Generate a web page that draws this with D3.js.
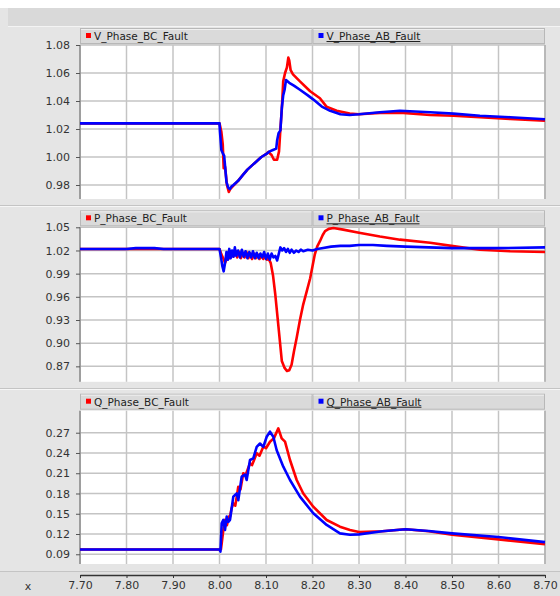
<!DOCTYPE html>
<html><head><meta charset="utf-8">
<script src="https://cdn.jsdelivr.net/npm/d3@7"></script>
<style>
html,body{margin:0;padding:0;background:#ffffff;}
svg{display:block;font-family:"DejaVu Sans",sans-serif;}
</style></head>
<body>
<svg id="chart" width="560" height="596"></svg>
<script>
// ---- data ----
const xTicks = [7.70, 7.80, 7.90, 8.00, 8.10, 8.20, 8.30, 8.40, 8.50, 8.60, 8.70];
const vTicks = [0.98, 1.00, 1.02, 1.04, 1.06, 1.08];
const pTicks = [0.87, 0.90, 0.93, 0.96, 0.99, 1.02, 1.05];
const qTicks = [0.09, 0.12, 0.15, 0.18, 0.21, 0.24, 0.27];

const vNames = ["V_Phase_BC_Fault", "V_Phase_AB_Fault"];
const pNames = ["P_Phase_BC_Fault", "P_Phase_AB_Fault"];
const qNames = ["Q_Phase_BC_Fault", "Q_Phase_AB_Fault"];

const vBC = [[7.70,1.024],[8.000,1.024],[8.004,1.018],[8.007,1.009],[8.009,0.992],[8.012,0.993],[8.016,0.980],[8.020,0.975],[8.023,0.977],[8.030,0.9795],[8.040,0.983],[8.050,0.987],[8.060,0.991],[8.070,0.994],[8.080,0.997],[8.090,1.000],[8.100,1.002],[8.105,1.0036],[8.112,1.0014],[8.117,0.998],[8.124,0.998],[8.128,1.004],[8.131,1.020],[8.134,1.034],[8.137,1.054],[8.141,1.060],[8.145,1.064],[8.148,1.071],[8.150,1.069],[8.153,1.062],[8.158,1.059],[8.173,1.054],[8.195,1.047],[8.216,1.042],[8.230,1.036],[8.252,1.033],[8.280,1.031],[8.300,1.0305],[8.345,1.0315],[8.388,1.0317],[8.453,1.030],[8.503,1.0295],[8.560,1.0284],[8.625,1.0271],[8.700,1.026]];
const vAB = [[7.70,1.024],[8.000,1.024],[8.001,1.018],[8.004,1.005],[8.008,1.002],[8.010,1.001],[8.015,0.982],[8.019,0.978],[8.022,0.977],[8.026,0.979],[8.030,0.980],[8.040,0.983],[8.050,0.987],[8.060,0.991],[8.070,0.994],[8.080,0.997],[8.090,1.000],[8.100,1.002],[8.108,1.004],[8.115,1.005],[8.122,1.006],[8.124,1.012],[8.127,1.017],[8.131,1.019],[8.134,1.035],[8.137,1.044],[8.140,1.048],[8.143,1.055],[8.150,1.053],[8.160,1.051],[8.173,1.048],[8.190,1.044],[8.202,1.041],[8.220,1.036],[8.238,1.033],[8.260,1.0305],[8.280,1.030],[8.300,1.0305],[8.345,1.032],[8.388,1.033],[8.453,1.032],[8.503,1.031],[8.560,1.0295],[8.625,1.0284],[8.700,1.027]];

const pBC = [[7.70,1.022],[8.000,1.022],[8.004,1.015],[8.008,1.010],[8.012,1.004],[8.015,1.008],[8.018,1.016],[8.022,1.010],[8.026,1.019],[8.030,1.012],[8.034,1.020],[8.038,1.011],[8.042,1.018],[8.046,1.010],[8.050,1.017],[8.054,1.011],[8.058,1.018],[8.062,1.010],[8.066,1.016],[8.070,1.009],[8.074,1.016],[8.078,1.010],[8.082,1.015],[8.086,1.009],[8.090,1.014],[8.094,1.009],[8.098,1.013],[8.102,1.008],[8.105,1.010],[8.110,1.004],[8.115,0.988],[8.120,0.963],[8.127,0.920],[8.134,0.877],[8.140,0.868],[8.145,0.864],[8.150,0.865],[8.155,0.872],[8.160,0.889],[8.166,0.907],[8.173,0.930],[8.180,0.950],[8.188,0.968],[8.195,0.984],[8.205,1.015],[8.210,1.025],[8.216,1.032],[8.222,1.040],[8.227,1.045],[8.235,1.048],[8.245,1.049],[8.266,1.047],[8.300,1.043],[8.345,1.038],[8.388,1.034],[8.453,1.030],[8.510,1.025],[8.560,1.021],[8.625,1.019],[8.700,1.018]];
const pAB = [[7.70,1.022],[7.80,1.022],[7.82,1.023],[7.86,1.023],[7.88,1.022],[8.000,1.022],[8.003,1.012],[8.006,1.000],[8.009,0.993],[8.012,1.004],[8.015,1.018],[8.018,1.008],[8.021,1.022],[8.024,1.010],[8.027,1.020],[8.030,1.012],[8.033,1.024],[8.036,1.013],[8.040,1.020],[8.044,1.011],[8.048,1.021],[8.052,1.012],[8.056,1.019],[8.060,1.010],[8.064,1.018],[8.068,1.011],[8.072,1.019],[8.076,1.010],[8.080,1.017],[8.084,1.010],[8.088,1.016],[8.092,1.011],[8.096,1.018],[8.100,1.009],[8.104,1.016],[8.108,1.008],[8.112,1.016],[8.116,1.011],[8.120,1.013],[8.124,1.007],[8.128,1.017],[8.131,1.024],[8.135,1.020],[8.139,1.023],[8.143,1.018],[8.147,1.022],[8.151,1.017],[8.155,1.021],[8.160,1.017],[8.165,1.020],[8.170,1.018],[8.175,1.021],[8.180,1.019],[8.190,1.021],[8.200,1.020],[8.210,1.022],[8.220,1.023],[8.240,1.025],[8.260,1.026],[8.280,1.026],[8.300,1.027],[8.330,1.027],[8.360,1.026],[8.400,1.025],[8.450,1.024],[8.500,1.023],[8.600,1.023],[8.700,1.024]];

const qBC = [[7.70,0.097],[8.000,0.097],[8.003,0.097],[8.0047,0.106],[8.0083,0.126],[8.0118,0.141],[8.016,0.133],[8.020,0.146],[8.0226,0.1457],[8.026,0.158],[8.0297,0.1655],[8.034,0.162],[8.0404,0.190],[8.045,0.186],[8.0512,0.210],[8.056,0.207],[8.0656,0.2247],[8.070,0.222],[8.080,0.2395],[8.086,0.236],[8.0942,0.2493],[8.100,0.247],[8.1086,0.2567],[8.1172,0.262],[8.1265,0.2765],[8.1337,0.2617],[8.1409,0.2567],[8.1516,0.2296],[8.166,0.200],[8.1802,0.180],[8.2017,0.1605],[8.2305,0.1408],[8.259,0.1309],[8.2806,0.126],[8.300,0.123],[8.350,0.124],[8.400,0.127],[8.450,0.124],[8.500,0.119],[8.600,0.112],[8.700,0.105]];
const qAB = [[7.70,0.097],[8.000,0.097],[8.002,0.094],[8.0047,0.136],[8.0083,0.141],[8.0118,0.126],[8.0155,0.1457],[8.019,0.138],[8.0226,0.141],[8.0297,0.1753],[8.037,0.180],[8.0404,0.170],[8.0477,0.205],[8.0548,0.208],[8.0584,0.200],[8.0656,0.2296],[8.0727,0.232],[8.080,0.249],[8.0871,0.254],[8.0942,0.249],[8.1015,0.264],[8.1086,0.2715],[8.1157,0.264],[8.123,0.244],[8.1372,0.2197],[8.1516,0.200],[8.173,0.1753],[8.2017,0.1507],[8.2305,0.1334],[8.259,0.121],[8.2806,0.119],[8.300,0.1195],[8.350,0.124],[8.400,0.127],[8.450,0.1245],[8.500,0.121],[8.600,0.1155],[8.700,0.108]];

// ---- layout ----
const svg = d3.select("#chart");
const W = 560, H = 596;
const left = 80, right = 545;
const x = d3.scaleLinear().domain([7.70, 8.70]).range([left, right]);
const RED = "#ff0000", BLUE = "#0000ff";

svg.append("rect").attr("width", W).attr("height", H).attr("fill", "#e5e5e5");
svg.append("rect").attr("x",0).attr("y",0).attr("width",W).attr("height",8).attr("fill","#ffffff");
svg.append("rect").attr("x",8).attr("y",8).attr("width",W-8).attr("height",18).attr("fill","#d9d9d9");
svg.append("line").attr("x1",8).attr("x2",W).attr("y1",26.5).attr("y2",26.5).attr("stroke","#f4f4f4");

const panels = [
  {names: vNames, series: [vBC, vAB], ticks: vTicks, domain: [0.97, 1.08], top: 45, bottom: 199, pTop: 27, pBottom: 205},
  {names: pNames, series: [pBC, pAB], ticks: pTicks, domain: [0.85, 1.05], top: 227.3, bottom: 381.8, pTop: 206, pBottom: 388},
  {names: qNames, series: [qBC, qAB], ticks: qTicks, domain: [0.0756, 0.3026], top: 410.7, bottom: 564, pTop: 389, pBottom: 571}
];

const line = (y) => d3.line().x(d => x(d[0])).y(d => y(d[1]));

panels.forEach((p, i) => {
  const g = svg.append("g");
  // separators
  g.append("line").attr("x1",0).attr("x2",W).attr("y1",p.pBottom+0.5).attr("y2",p.pBottom+0.5).attr("stroke","#c4c4c4");
  g.append("line").attr("x1",0).attr("x2",W).attr("y1",p.pBottom+1.5).attr("y2",p.pBottom+1.5).attr("stroke","#f6f6f6");

  const y = d3.scaleLinear().domain(p.domain).range([p.bottom, p.top]);
  // legend bar
  const lt = p.top - 17, lh = 16;
  const mid = x(8.20);
  [[left, mid], [mid, right]].forEach((seg, k) => {
    g.append("rect").attr("x", seg[0]+0.5).attr("y", lt+0.5).attr("width", seg[1]-seg[0]-1).attr("height", lh-1)
      .attr("fill", "#dadada").attr("stroke", "#b8b8b8");
    g.append("line").attr("x1", seg[0]+1).attr("x2", seg[1]-1).attr("y1", lt+1.5).attr("y2", lt+1.5).attr("stroke","#f0f0f0");
    g.append("rect").attr("x", seg[0]+6).attr("y", lt+5).attr("width", 5).attr("height", 5)
      .attr("fill", k === 0 ? RED : BLUE);
    g.append("text").attr("x", seg[0]+14).attr("y", lt+12).attr("font-size", 10.5).attr("fill", "#222")
      .attr("text-decoration", k === 1 ? "underline" : null)
      .text(p.names[k]);
  });

  // plot background
  g.append("rect").attr("x", left).attr("y", p.top).attr("width", right-left).attr("height", p.bottom-p.top).attr("fill", "#ffffff");
  // grid
  g.selectAll(".vg").data(xTicks).enter().append("line")
    .attr("x1", d => x(d)).attr("x2", d => x(d)).attr("y1", p.top).attr("y2", p.bottom)
    .attr("stroke", "#c4c4c4").attr("stroke-width", 1.5);
  g.selectAll(".hg").data(p.ticks).enter().append("line")
    .attr("x1", left).attr("x2", right).attr("y1", d => y(d)).attr("y2", d => y(d))
    .attr("stroke", "#c4c4c4").attr("stroke-width", 1.5);
  // border
  g.append("line").attr("x1", left).attr("x2", left).attr("y1", p.top).attr("y2", p.bottom).attr("stroke", "#8c8c8c").attr("stroke-width", 1.5);
  g.append("line").attr("x1", right).attr("x2", right).attr("y1", p.top).attr("y2", p.bottom).attr("stroke", "#b0b0b0").attr("stroke-width", 1.5);

  // y axis
  const ax = g.append("g").attr("transform", `translate(${left},0)`)
    .call(d3.axisLeft(y).tickValues(p.ticks).tickFormat(d3.format(".2f")).tickSize(4).tickPadding(6));
  ax.select(".domain").remove();
  ax.selectAll(".tick line").attr("stroke", "#555");
  ax.selectAll(".tick text").attr("font-size", 11).attr("fill", "#333").attr("font-family", "DejaVu Sans, sans-serif");

  // series
  const clipId = "clip" + i;
  svg.append("clipPath").attr("id", clipId).append("rect")
    .attr("x", left).attr("y", p.top-2).attr("width", right-left+2).attr("height", p.bottom-p.top+4);
  const sg = g.append("g").attr("clip-path", `url(#${clipId})`);
  sg.append("path").datum(p.series[0]).attr("d", line(y)).attr("fill", "none").attr("stroke", RED).attr("stroke-width", 2.6).attr("stroke-linejoin", "round");
  sg.append("path").datum(p.series[1]).attr("d", line(y)).attr("fill", "none").attr("stroke", BLUE).attr("stroke-width", 2.6).attr("stroke-linejoin", "round");
});

// x axis strip
svg.append("rect").attr("x",0).attr("y",572).attr("width",W).attr("height",24).attr("fill","#e0e0e0");
const xa = svg.append("g").attr("transform", "translate(0,575)")
  .call(d3.axisBottom(x).tickValues(xTicks).tickFormat(d3.format(".2f")).tickSize(3).tickSizeOuter(0).tickPadding(3));
xa.select(".domain").attr("stroke", "#333").attr("stroke-width", 1.5);
xa.selectAll(".tick line").attr("stroke", "#333");
xa.selectAll(".tick text").attr("font-size", 11).attr("fill", "#333").attr("font-family", "DejaVu Sans, sans-serif");
svg.append("text").attr("x", 28).attr("y", 590).attr("text-anchor", "middle").attr("font-size", 11).attr("fill", "#333").text("x");
</script>
</body></html>
